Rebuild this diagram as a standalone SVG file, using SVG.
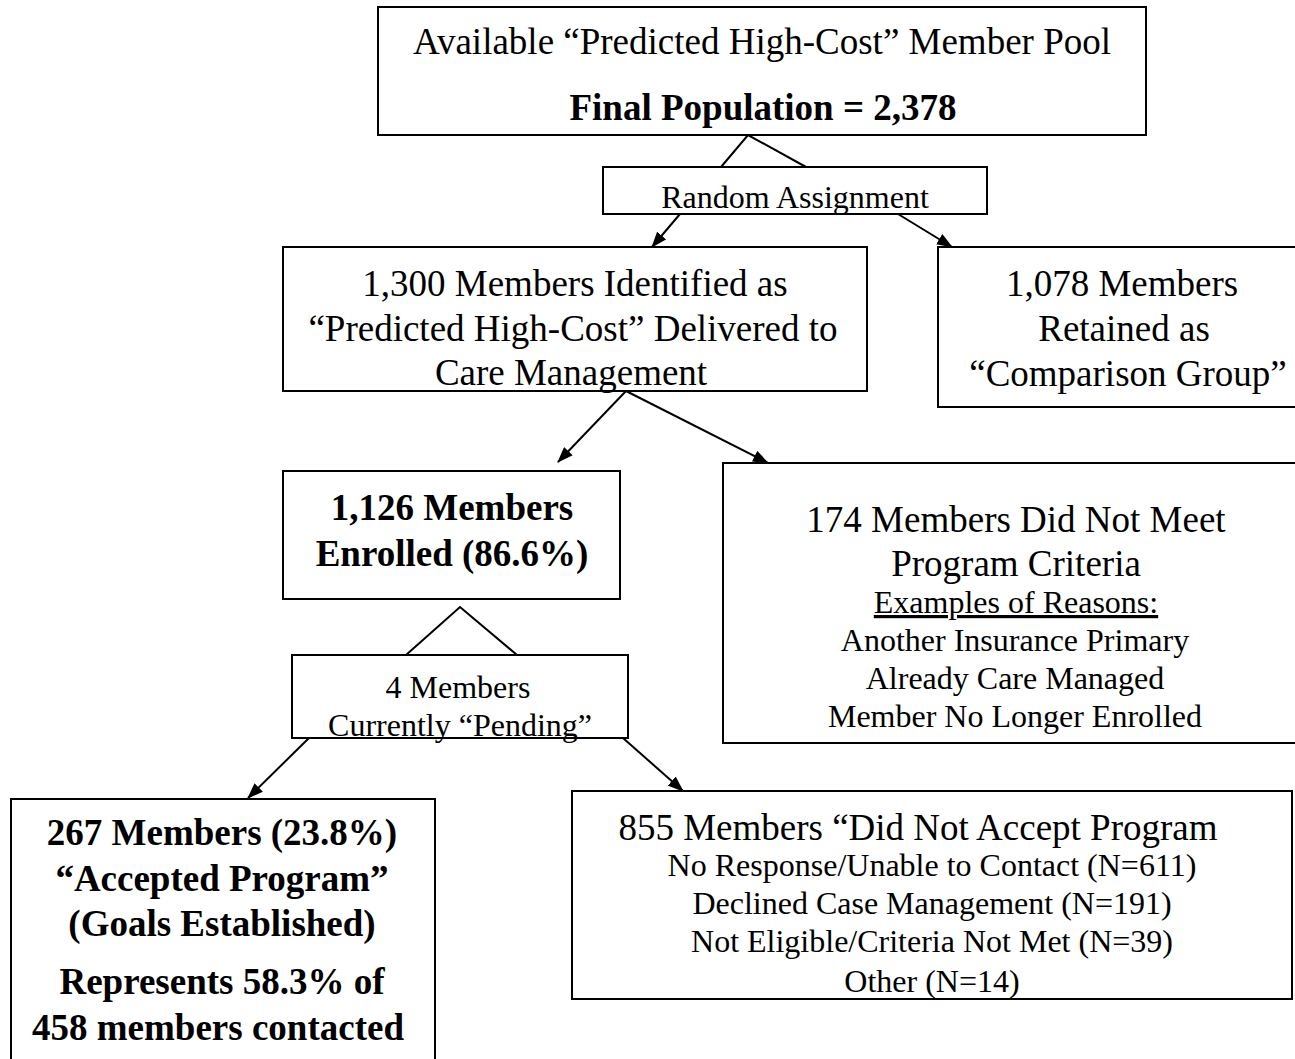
<svg xmlns="http://www.w3.org/2000/svg" width="1295" height="1059" viewBox="0 0 1295 1059">
<style>
  .box { fill: #ffffff; stroke: #000000; stroke-width: 2; }
  .t { font-family: "Liberation Serif", "Times New Roman", serif; fill: #000000; text-anchor: middle; }
  .r { font-size: 37px; }
  .s { font-size: 32px; }
  .b { font-size: 37px; font-weight: bold; }
  .ln { stroke: #000000; stroke-width: 2; fill: none; }
  .ar { stroke: #000000; stroke-width: 2; fill: none; marker-end: url(#ah); }
</style>
<defs>
  <marker id="ah" viewBox="0 0 16 12" refX="15" refY="6" markerWidth="16" markerHeight="12" markerUnits="userSpaceOnUse" orient="auto">
    <path d="M0,0 L16,6 L0,12 Z" fill="#000000"/>
  </marker>
</defs>
<rect width="1295" height="1059" fill="#ffffff"/>

<g id="connectors">
  <polyline class="ln" points="721,167 748,135 806,167"/>
  <line class="ar" x1="680" y1="214" x2="652" y2="247"/>
  <line class="ar" x1="898" y1="214" x2="952" y2="247"/>
  <line class="ar" x1="626" y1="391" x2="558" y2="462"/>
  <line class="ar" x1="626" y1="391" x2="768" y2="463"/>
  <polyline class="ln" points="406,655 460,607 517,655"/>
  <line class="ar" x1="309" y1="738" x2="248" y2="798"/>
  <line class="ar" x1="623" y1="738" x2="683" y2="791"/>
</g>

<g id="pool">
  <rect class="box" x="378" y="7" width="768" height="128"/>
  <text class="t r" x="762" y="54">Available “Predicted High-Cost” Member Pool</text>
  <text class="t b" x="763" y="120">Final Population = 2,378</text>
</g>

<g id="random">
  <rect class="box" x="603" y="167" width="384" height="47"/>
  <text class="t s" x="795" y="208">Random Assignment</text>
</g>

<g id="delivered">
  <rect class="box" x="283" y="247" width="584" height="144"/>
  <text class="t r" x="575" y="296">1,300 Members Identified as</text>
  <text class="t r" x="573" y="341">“Predicted High-Cost” Delivered to</text>
  <text class="t r" x="571" y="385">Care Management</text>
</g>

<g id="comparison">
  <rect class="box" x="938" y="247" width="370" height="160"/>
  <text class="t r" x="1122" y="296">1,078 Members</text>
  <text class="t r" x="1124" y="341">Retained as</text>
  <text class="t r" x="1128" y="386">“Comparison Group”</text>
</g>

<g id="enrolled">
  <rect class="box" x="283" y="471" width="337" height="128"/>
  <text class="t b" x="452" y="520">1,126 Members</text>
  <text class="t b" x="452" y="566">Enrolled (86.6%)</text>
</g>

<g id="notmet">
  <rect class="box" x="723" y="463" width="590" height="280"/>
  <text class="t r" x="1016" y="532">174 Members Did Not Meet</text>
  <text class="t r" x="1016" y="576">Program Criteria</text>
  <text class="t s" x="1016" y="613" text-decoration="underline">Examples of Reasons:</text>
  <text class="t s" x="1015" y="651">Another Insurance Primary</text>
  <text class="t s" x="1015" y="689">Already Care Managed</text>
  <text class="t s" x="1015" y="727">Member No Longer Enrolled</text>
</g>

<g id="pending">
  <rect class="box" x="292" y="655" width="336" height="83"/>
  <text class="t s" x="458" y="698">4 Members</text>
  <text class="t s" x="460" y="736">Currently “Pending”</text>
</g>

<g id="accepted">
  <rect class="box" x="11" y="799" width="424" height="280"/>
  <text class="t b" x="222" y="845">267 Members (23.8%)</text>
  <text class="t b" x="222" y="891">“Accepted Program”</text>
  <text class="t b" x="222" y="936">(Goals Established)</text>
  <text class="t b" x="222" y="994">Represents 58.3% of</text>
  <text class="t b" x="218" y="1040">458 members contacted</text>
</g>

<g id="notaccepted">
  <rect class="box" x="572" y="791" width="720" height="208"/>
  <text class="t r" x="918" y="840">855 Members “Did Not Accept Program</text>
  <text class="t s" x="932" y="876">No Response/Unable to Contact (N=611)</text>
  <text class="t s" x="932" y="914">Declined Case Management (N=191)</text>
  <text class="t s" x="932" y="952">Not Eligible/Criteria Not Met (N=39)</text>
  <text class="t s" x="932" y="992">Other (N=14)</text>
</g>
</svg>
